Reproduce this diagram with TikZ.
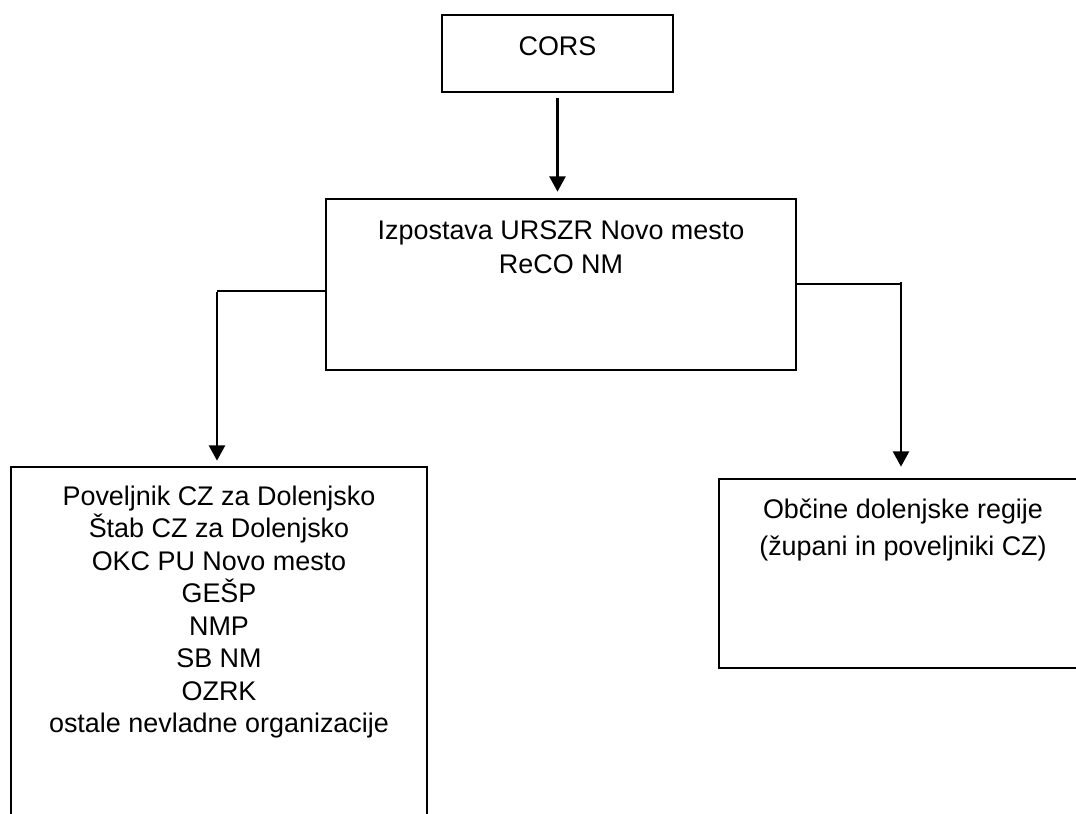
\documentclass[tikz,border=0pt]{standalone}
\usepackage{fontspec}
\setmainfont{Liberation Sans}
\usetikzlibrary{arrows.meta}
\begin{document}
\begin{tikzpicture}[x=0.75pt,y=-0.75pt,
  box/.style={draw, line width=2pt, inner sep=0pt, rectangle},
  lbl/.style={font=\fontsize{20.2}{24}\selectfont, anchor=base, inner sep=0pt},
  arr/.style={line width=2pt, -{Triangle[width=12pt,length=11.5pt]}},
  thinline/.style={line width=1pt}]
\useasboundingbox (0,0) rectangle (1076,814);
\clip (0,0) rectangle (1076,814);
\node[box, minimum width=173.25pt, minimum height=57.75pt] (cors) at (557.5,53.5) {};
\node[box, minimum width=352.5pt, minimum height=128.25pt] (mid) at (561,284.5) {};
\node[box, minimum width=312pt, minimum height=279.75pt] (left) at (219,653.5) {};
\node[box, minimum width=276pt, minimum height=141.75pt] (right) at (903,573.5) {};
% texts
\node[lbl] (t0) at (557.5,55) {CORS};
\node[lbl] (m1) at (561,239) {Izpostava URSZR Novo mesto};
\node[lbl] (m2) at (561,273) {ReCO NM};
\foreach \t [count=\i from 0] in {Poveljnik CZ za Dolenjsko,Štab CZ za Dolenjsko,OKC PU Novo mesto,GEŠP,NMP,SB NM,OZRK,ostale nevladne organizacije}
  \node[lbl] (l\i) at (219,505+32.5*\i) {\t};
\node[lbl] (r1) at (903,518) {Občine dolenjske regije};
\node[lbl] (r2) at (903,555) {(župani in poveljniki CZ)};
% connectors
\draw[arr, shorten <=3.75pt, shorten >=4.5pt] (cors.south) -- (cors.south |- mid.north);
\coordinate (lk) at (217,291);
\coordinate (rk) at (901,284);
\draw[thinline] (mid.west |- lk) -- (lk);
\draw[arr, shorten >=3.75pt] ([yshift=-0.5pt]lk) -- (lk |- left.north);
\draw[thinline] (mid.east |- rk) -- (rk);
\draw[arr, shorten >=8.25pt] ([yshift=1.5pt]rk) -- (rk |- right.north);
\end{tikzpicture}
\end{document}
